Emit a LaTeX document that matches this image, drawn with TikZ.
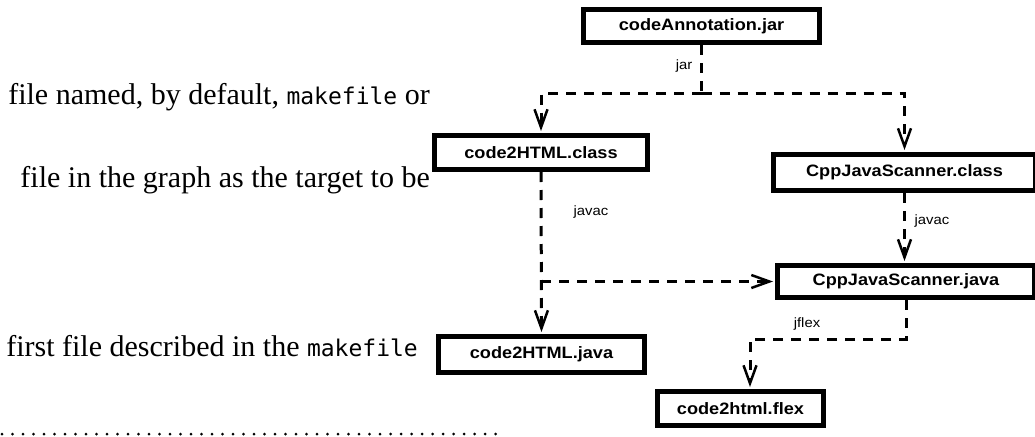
\documentclass[tikz,border=0pt]{standalone}
\usepackage{fontspec}
\setmainfont{Liberation Serif}
\newfontfamily\boxfont[FakeStretch=1.1]{Liberation Sans}
\newfontfamily\codefont{DejaVu Sans Mono}
\usetikzlibrary{arrows.meta,calc}
\begin{document}
\begin{tikzpicture}[x=1pt,y=-1pt,
  fbox/.style={draw, line width=5pt, inner sep=0pt, minimum height=33pt,
    font=\boxfont\bfseries\fontsize{16.5}{18}\selectfont},
  dep/.style={line width=3pt, dash pattern=on 10pt off 8pt},
  tip/.style={-{Straight Barb[length=18pt,width=13pt,line width=2.5pt]}, shorten >=2pt},
  lbl/.style={inner sep=0pt, font=\boxfont\fontsize{13.5}{15}\selectfont},
  body/.style={anchor=base east, inner sep=0pt, font=\fontsize{30}{34}\selectfont},
  mono/.style={font=\codefont\fontsize{23}{26}\selectfont}]
\useasboundingbox (0,0) rectangle (1035,436);

% body text
\node[body] (t1) at (430,104) {file named, by default, {\codefont\fontsize{23}{26}\selectfont makefile} or};
\node[body] (t2) at (430,187) {file in the graph as the target to be};
\node[body] (t3) at (418,356) {first file described in the {\codefont\fontsize{23}{26}\selectfont makefile}};
\draw[line width=3pt, line cap=round, dash pattern=on 0pt off 10.5pt] (2,434) -- (505,434);

% boxes
\node[fbox, minimum width=236pt, minimum height=33pt] (A) at (701.5,26) {codeAnnotation.jar};
\node[fbox, minimum width=213pt, minimum height=34pt] (B) at (541,152.5) {code2HTML.class};
\node[fbox, minimum width=262pt, minimum height=36pt] (C) at (904.5,172.5) {CppJavaScanner.class};
\node[fbox, minimum width=257pt, minimum height=32pt] (E) at (906,281.5) {CppJavaScanner.java};
\node[fbox, minimum width=206pt, minimum height=36pt] (D) at (541.5,354.5) {code2HTML.java};
\node[fbox, minimum width=166pt, minimum height=34pt] (F) at (740.5,408.5) {code2html.flex};

% labels
\node[lbl] (ljar) at (684,66) {jar};
\node[lbl] (ljav1) at (591,212) {javac};
\node[lbl] (ljav2) at (932,221) {javac};
\node[lbl] (ljfl) at (807,324) {jflex};

% connectors
\coordinate (j) at (A.south |- 0,93);
\coordinate (k) at (750,339);
\draw[dep] (A.south) -- (j);
\draw[dep,tip] (j) -| (B.north);
\draw[dep,tip] (j) -| (C.north);
\draw[dep,tip] (B.south) -- (D.north);
\draw[dep,tip] (B.south |- E.west) -- (E.west);
\draw[dep,tip] (C.south) -- (C.south |- E.north);
\draw[dep,tip] (E.south) |- (k) -- (k |- F.north);
\end{tikzpicture}
\end{document}
